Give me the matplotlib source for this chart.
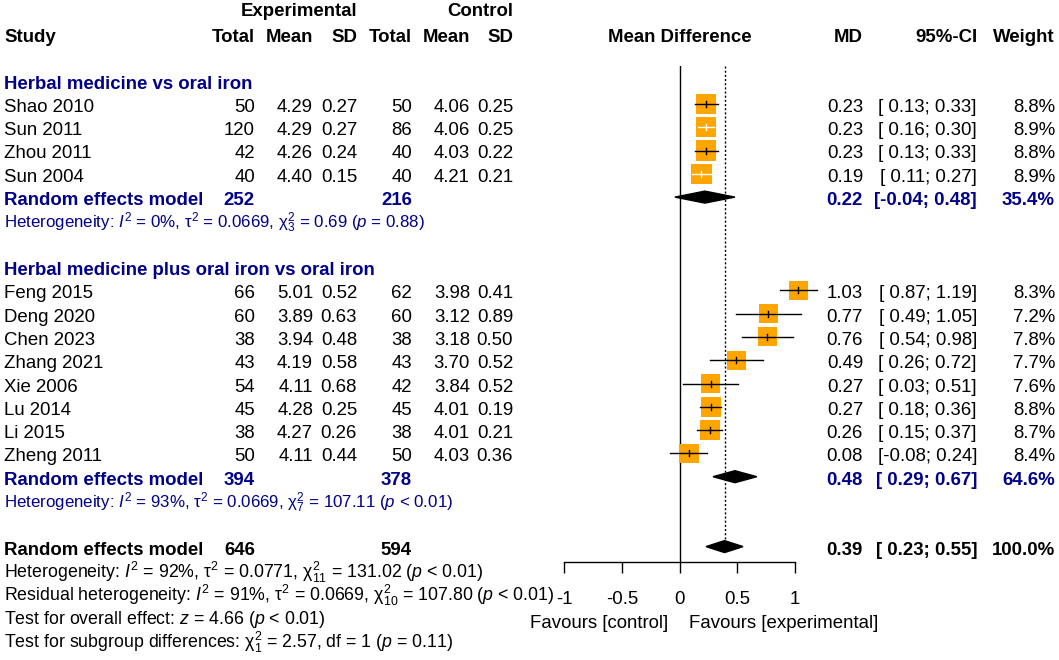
import numpy as np
import matplotlib; matplotlib.use('Agg')
import matplotlib.pyplot as plt
import matplotlib.patches as patches

plt.rcParams['font.family'] = ['Liberation Sans', 'DejaVu Sans']
plt.rcParams['mathtext.fontset'] = 'custom'
plt.rcParams['mathtext.rm'] = 'Liberation Sans'
plt.rcParams['mathtext.it'] = 'Liberation Sans:italic'
plt.rcParams['mathtext.bf'] = 'Liberation Sans:bold'

# --- Donnees ---
grp_names = ["Herbal medicine vs oral iron", "Herbal medicine plus oral iron vs oral iron"]

studies1 = ["Shao 2010", "Sun 2011", "Zhou 2011", "Sun 2004"]
ne1 = [50, 120, 42, 40]
me1 = [4.29, 4.29, 4.26, 4.40]
se1 = [0.27, 0.27, 0.24, 0.15]
nc1 = [50, 86, 40, 40]
mc1 = [4.06, 4.06, 4.03, 4.21]
sc1 = [0.25, 0.25, 0.22, 0.21]
md1 = [0.23, 0.23, 0.23, 0.19]
lo1 = [0.13, 0.16, 0.13, 0.11]
hi1 = [0.33, 0.30, 0.33, 0.27]
w1 = [8.8, 8.9, 8.8, 8.9]

studies2 = ["Feng 2015", "Deng 2020", "Chen 2023", "Zhang 2021", "Xie 2006", "Lu 2014", "Li 2015", "Zheng 2011"]
ne2 = [66, 60, 38, 43, 54, 45, 38, 50]
me2 = [5.01, 3.89, 3.94, 4.19, 4.11, 4.28, 4.27, 4.11]
se2 = [0.52, 0.63, 0.48, 0.58, 0.68, 0.25, 0.26, 0.44]
nc2 = [62, 60, 38, 43, 42, 45, 38, 50]
mc2 = [3.98, 3.12, 3.18, 3.70, 3.84, 4.01, 4.01, 4.03]
sc2 = [0.41, 0.89, 0.50, 0.52, 0.52, 0.19, 0.21, 0.36]
md2 = [1.03, 0.77, 0.76, 0.49, 0.27, 0.27, 0.26, 0.08]
lo2 = [0.87, 0.49, 0.54, 0.26, 0.03, 0.18, 0.15, -0.08]
hi2 = [1.19, 1.05, 0.98, 0.72, 0.51, 0.36, 0.37, 0.24]
w2 = [8.3, 7.2, 7.8, 7.7, 7.6, 8.8, 8.7, 8.4]

# modeles a effets aleatoires: sous-groupe 1, sous-groupe 2, global
re_ne = [252, 394, 646]
re_nc = [216, 378, 594]
re_md = [0.22, 0.48, 0.39]
re_lo = [-0.04, 0.29, 0.23]
re_hi = [0.48, 0.67, 0.55]
re_w = [35.4, 64.6, 100.0]

het1 = r"Heterogeneity: $I^2$ = 0%, $\mathrm{\tau}^2$ = 0.0669, $\mathrm{\chi}^2_3$ = 0.69 ($p$ = 0.88)"
het2 = r"Heterogeneity: $I^2$ = 93%, $\mathrm{\tau}^2$ = 0.0669, $\mathrm{\chi}^2_7$ = 107.11 ($p$ < 0.01)"
foot = [r"Heterogeneity: $I^2$ = 92%, $\mathrm{\tau}^2$ = 0.0771, $\mathrm{\chi}^2_{11}$ = 131.02 ($p$ < 0.01)",
        r"Residual heterogeneity: $I^2$ = 91%, $\mathrm{\tau}^2$ = 0.0669, $\mathrm{\chi}^2_{10}$ = 107.80 ($p$ < 0.01)",
        r"Test for overall effect: $z$ = 4.66 ($p$ < 0.01)",
        r"Test for subgroup differences: $\mathrm{\chi}^2_1$ = 2.57, df = 1 ($p$ = 0.11)"]
ticks = [-1, -0.5, 0, 0.5, 1]
ref_line = 0.39

# --- Mise en page (pixels) ---
W, H = 1059, 660
X0, SCALE = 679.5, 115.5          # pixel de MD=0, pixels par unite
FS = 13.4                          # texte principal
FS_H = 12.2                        # heterogeneite des sous-groupes
FS_F = 12.8                        # lignes du bas
BLUE = '#00008B'
ORANGE = '#FFA500'

def base(r):       # ligne de base du texte de la rangee r
    return 42 + 23.3 * r

def r_of_px(px):  # rangee correspondant a un pixel vertical (centre des marques)
    return (px - 34) / 23.3

fig = plt.figure(figsize=(W/100, H/100), dpi=100)
ax = fig.add_axes([0, 0, 1, 1])
ax.set_xlim(0, W); ax.set_ylim(H, 0); ax.axis('off')

AX_TOP, AX_BOT = 66, 562
fax = fig.add_axes([0, (H - AX_BOT)/H, 1, (AX_BOT - AX_TOP)/H])
fax.set_xlim(-X0/SCALE, (W - X0)/SCALE)
fax.set_ylim(r_of_px(AX_BOT), r_of_px(AX_TOP))
fax.patch.set_alpha(0)
for s in ['top', 'left', 'right']:
    fax.spines[s].set_visible(False)
fax.spines['bottom'].set_bounds(-1, 1)
fax.spines['bottom'].set_linewidth(1.0)
fax.set_yticks([])
fax.set_xticks(ticks)
fax.set_xticklabels([f'{t:g}' for t in ticks])
fax.tick_params(axis='x', length=8, width=1.0, pad=13, labelsize=FS)

# colonnes (bord droit)
cols = [255, 313, 357, 412, 470, 513]
X_MD, X_CI, X_W = 863, 977, 1055

def txt(x, r, s, ha='right', bold=False, color='black', fs=FS):
    ax.text(x, base(r), s, ha=ha, va='baseline', fontsize=fs,
            fontweight='bold' if bold else 'normal', color=color)

def ci_str(lo, hi):
    return f'[{lo:5.2f}; {hi:4.2f}]'

# --- En-tetes ---
txt(357, -1.1, 'Experimental', bold=True)
txt(513, -1.1, 'Control', bold=True)
txt(4, 0, 'Study', ha='left', bold=True)
for x, h in zip(cols, ['Total', 'Mean', 'SD', 'Total', 'Mean', 'SD']):
    txt(x, 0, h, bold=True)
txt(X0, 0, 'Mean Difference', ha='center', bold=True)
txt(X_MD, 0, 'MD', bold=True)
txt(X_CI, 0, '95%-CI', bold=True)
txt(X_W, 0, 'Weight', bold=True)

def study_row(r, name, vals, md, lo, hi, w):
    txt(4, r, name, ha='left')
    fmts = ['{:d}', '{:.2f}', '{:.2f}', '{:d}', '{:.2f}', '{:.2f}']
    for x, v, f in zip(cols, vals, fmts):
        txt(x, r, f.format(v))
    txt(X_MD, r, f'{md:.2f}')
    txt(X_CI, r, ci_str(lo, hi))
    txt(X_W, r, f'{w:.1f}%')
    # carre + IC
    side = 6.8 * np.sqrt(w)
    hw = side / 2 / SCALE
    hh = side / 2 / 23.3
    fax.add_patch(patches.Rectangle((md - hw, r - hh), 2*hw, 2*hh, fc=ORANGE, ec='none', zorder=2))
    inside = lo >= md - hw and hi <= md + hw
    lc = 'white' if inside else 'black'
    fax.plot([lo, hi], [r, r], color=lc, lw=1.0, zorder=3)
    fax.plot([md, md], [r - 3/23.3, r + 3/23.3], color=lc, lw=1.0, zorder=3)

def diamond(r, md, lo, hi):
    h = 6 / 23.3
    fax.add_patch(plt.Polygon([(lo, r), (md, r - h), (hi, r), (md, r + h)],
                              fc='black', ec='black', lw=1.0, zorder=3))

def re_row(r, i, color):
    txt(4, r, 'Random effects model', ha='left', bold=True, color=color)
    txt(cols[0], r, f'{re_ne[i]}', bold=True, color=color)
    txt(cols[3], r, f'{re_nc[i]}', bold=True, color=color)
    txt(X_MD, r, f'{re_md[i]:.2f}', bold=True, color=color)
    txt(X_CI, r, ci_str(re_lo[i], re_hi[i]), bold=True, color=color)
    txt(X_W, r, f'{re_w[i]:.1f}%', bold=True, color=color)
    diamond(r, re_md[i], re_lo[i], re_hi[i])

# --- Sous-groupe 1 ---
txt(4, 2, grp_names[0], ha='left', bold=True, color=BLUE)
for k in range(len(studies1)):
    study_row(3 + k, studies1[k], [ne1[k], me1[k], se1[k], nc1[k], mc1[k], sc1[k]],
              md1[k], lo1[k], hi1[k], w1[k])
re_row(7, 0, BLUE)
txt(4, 8, het1, ha='left', color=BLUE, fs=FS_H)

# --- Sous-groupe 2 ---
txt(4, 10, grp_names[1], ha='left', bold=True, color=BLUE)
for k in range(len(studies2)):
    study_row(11 + k, studies2[k], [ne2[k], me2[k], se2[k], nc2[k], mc2[k], sc2[k]],
              md2[k], lo2[k], hi2[k], w2[k])
re_row(19, 1, BLUE)
txt(4, 20, het2, ha='left', color=BLUE, fs=FS_H)

# --- Global ---
re_row(22, 2, 'black')
for k, s in enumerate(foot):
    txt(4, 23 + k, s, ha='left', fs=FS_F)

# lignes verticales
fax.plot([0, 0], [r_of_px(AX_TOP), r_of_px(AX_BOT)], color='black', lw=1.0, zorder=1)
fax.plot([ref_line, ref_line], [r_of_px(AX_TOP), 22 - 6/23.3], color='black', lw=1.0,
         ls=(0, (1.5, 1.5)), zorder=1)

# labels favours
ax.text(X0 - 0.1*SCALE, 628, 'Favours [control]', ha='right', va='baseline', fontsize=FS)
ax.text(X0 + 0.085*SCALE, 628, 'Favours [experimental]', ha='left', va='baseline', fontsize=FS)

fig.savefig('out.png', dpi=100)
